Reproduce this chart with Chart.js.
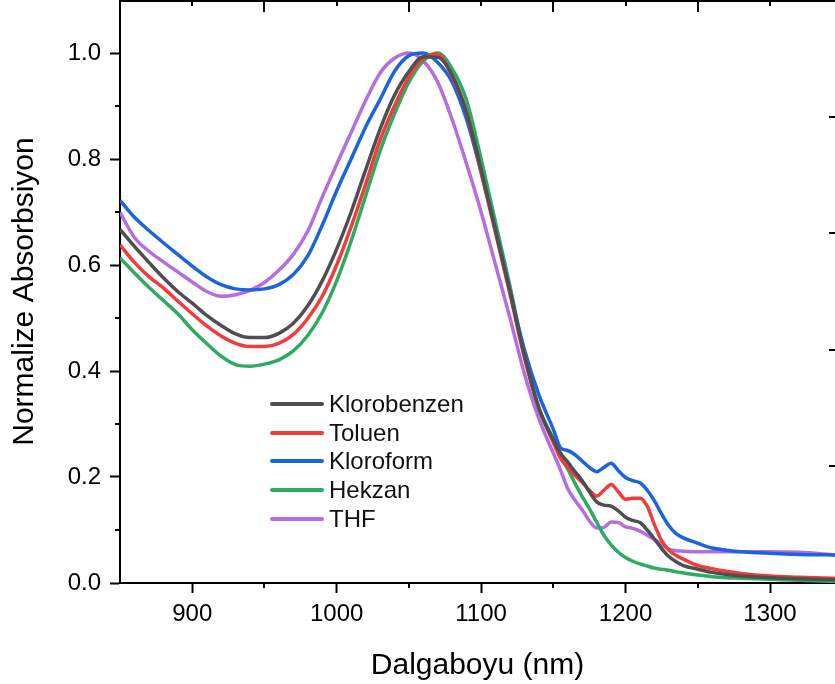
<!DOCTYPE html>
<html>
<head>
<meta charset="utf-8">
<script src="https://cdn.jsdelivr.net/npm/chart.js@4.4.1/dist/chart.umd.min.js"></script>
<style>
  html, body { margin: 0; padding: 0; background: #fff; }
  #wrap { position: relative; width: 835px; height: 684px; overflow: hidden; }
  #legend { position: absolute; left: 270px; top: 0; font-family: "Liberation Sans", Arial, sans-serif; font-size: 24px; color: #111; }
  .row { position: absolute; left: 0; height: 28px; display: flex; align-items: center; white-space: nowrap; }
  .swatch { width: 54px; height: 4px; border-radius: 2px; margin-right: 5px; }
</style>
</head>
<body>
<div id="wrap">
  <canvas id="chart"></canvas>
  <div id="legend"></div>
</div>
<script>
// wavelength grid (nm), finer around the 1150-1240 shoulders
const wavelengths = [850, 860, 870, 880, 890, 900, 910, 920, 930, 940, 950, 960, 970, 980, 990,
  1000, 1010, 1020, 1030, 1040, 1050, 1060, 1070, 1080, 1090, 1100, 1110, 1120, 1130, 1140, 1150,
  1155, 1160, 1165, 1170, 1175, 1180, 1185, 1190, 1195, 1200, 1205, 1210, 1215, 1220, 1225, 1230, 1235, 1240,
  1250, 1260, 1270, 1280, 1300, 1320, 1345];

const klorobenzen = [0.667, 0.635, 0.605, 0.576, 0.550, 0.528, 0.505, 0.486, 0.470, 0.463, 0.463, 0.471, 0.490, 0.523, 0.570,
  0.630, 0.700, 0.779, 0.856, 0.920, 0.965, 0.993, 0.992, 0.958, 0.887, 0.780, 0.665, 0.550, 0.430, 0.330, 0.270,
  0.245, 0.228, 0.210, 0.193, 0.172, 0.153, 0.147, 0.145, 0.136, 0.124, 0.118, 0.114, 0.100, 0.083, 0.065, 0.050, 0.040, 0.033,
  0.026, 0.020, 0.016, 0.013, 0.010, 0.008, 0.006];

const toluen = [0.638, 0.605, 0.578, 0.557, 0.532, 0.508, 0.485, 0.466, 0.452, 0.446, 0.446, 0.452, 0.469, 0.499, 0.541,
  0.600, 0.672, 0.752, 0.835, 0.900, 0.955, 0.990, 0.998, 0.955, 0.888, 0.775, 0.660, 0.545, 0.425, 0.330, 0.265,
  0.235, 0.218, 0.203, 0.190, 0.175, 0.164, 0.175, 0.186, 0.172, 0.158, 0.160, 0.160, 0.145, 0.110, 0.080, 0.062, 0.052, 0.045,
  0.033, 0.027, 0.022, 0.018, 0.013, 0.011, 0.009];

const kloroform = [0.722, 0.690, 0.665, 0.642, 0.620, 0.598, 0.578, 0.563, 0.555, 0.553, 0.555, 0.563, 0.582, 0.617, 0.675,
  0.740, 0.800, 0.860, 0.912, 0.965, 0.995, 1.000, 0.982, 0.945, 0.874, 0.775, 0.665, 0.550, 0.440, 0.355, 0.290,
  0.255, 0.250, 0.242, 0.230, 0.218, 0.210, 0.218, 0.226, 0.212, 0.199, 0.193, 0.189, 0.175, 0.155, 0.130, 0.108, 0.093, 0.085,
  0.075, 0.066, 0.062, 0.059, 0.056, 0.054, 0.053];

const hekzan = [0.613, 0.585, 0.558, 0.533, 0.508, 0.478, 0.452, 0.428, 0.412, 0.409, 0.413, 0.421, 0.438, 0.467, 0.510,
  0.570, 0.645, 0.730, 0.815, 0.885, 0.945, 0.985, 1.000, 0.970, 0.910, 0.800, 0.680, 0.560, 0.430, 0.330, 0.272,
  0.240, 0.215, 0.188, 0.163, 0.140, 0.115, 0.090, 0.072, 0.058, 0.048, 0.041, 0.036, 0.032, 0.028, 0.026, 0.024, 0.021, 0.019,
  0.015, 0.012, 0.010, 0.009, 0.007, 0.005, 0.003];

const thf = [0.699, 0.652, 0.626, 0.606, 0.587, 0.568, 0.550, 0.541, 0.544, 0.552, 0.567, 0.590, 0.620, 0.664, 0.728,
  0.790, 0.850, 0.910, 0.962, 0.990, 1.000, 0.985, 0.945, 0.874, 0.790, 0.700, 0.600, 0.500, 0.395, 0.310, 0.245,
  0.213, 0.178, 0.156, 0.138, 0.117, 0.104, 0.105, 0.115, 0.114, 0.106, 0.103, 0.098, 0.090, 0.082, 0.073, 0.064, 0.061, 0.060,
  0.059, 0.059, 0.059, 0.059, 0.059, 0.058, 0.053];

const seriesLabels = ['Klorobenzen', 'Toluen', 'Kloroform', 'Hekzan', 'THF'];
const seriesValues = [klorobenzen, toluen, kloroform, hekzan, thf];
const seriesColors = ['#4f4f4f', '#f03c3c', '#1c64dc', '#2eaa62', '#b46ee0'];

const xTicks = [900, 1000, 1100, 1200, 1300];
const xMinorTicks = [950, 1050, 1150, 1250];
const yTicks = [0, 0.2, 0.4, 0.6, 0.8, 1.0];
const yMinorTicks = [0.1, 0.3, 0.5, 0.7, 0.9];
// ticks of the (cropped) top and right frame axes
const topLongTicks = [950, 1050, 1150, 1250];
const topShortTicks = [900, 1000, 1100, 1200, 1300];
const rightTicks = [0.22, 0.44, 0.66, 0.88];

const FONT = '"Liberation Sans", Arial, sans-serif';

const axisDecor = {
    id: 'axisDecor',
    afterDraw(chart) {
        const { ctx, chartArea: a, scales: { x, y } } = chart;
        ctx.save();
        ctx.strokeStyle = '#000';
        ctx.lineWidth = 2;
        ctx.beginPath();
        ctx.moveTo(a.left, a.top + 1);
        ctx.lineTo(a.right, a.top + 1);
        xMinorTicks.forEach(v => {
            const px = Math.round(x.getPixelForValue(v));
            ctx.moveTo(px, a.bottom);
            ctx.lineTo(px, a.bottom + 5);
        });
        yMinorTicks.forEach(v => {
            const py = Math.round(y.getPixelForValue(v));
            ctx.moveTo(a.left, py);
            ctx.lineTo(a.left - 5, py);
        });
        topLongTicks.forEach(v => {
            const px = Math.round(x.getPixelForValue(v));
            ctx.moveTo(px, a.top);
            ctx.lineTo(px, a.top + 12);
        });
        topShortTicks.forEach(v => {
            const px = Math.round(x.getPixelForValue(v));
            ctx.moveTo(px, a.top);
            ctx.lineTo(px, a.top + 6);
        });
        rightTicks.forEach(v => {
            const py = Math.round(y.getPixelForValue(v));
            ctx.moveTo(a.right, py);
            ctx.lineTo(a.right - 6, py);
        });
        ctx.stroke();
        ctx.restore();
    }
};

function noPadding(scale) {
    scale.paddingTop = 0;
    scale.paddingBottom = 0;
    scale.paddingLeft = 0;
    scale.paddingRight = 0;
}

function buildLegend() {
    const box = document.getElementById('legend');
    seriesLabels.forEach((label, i) => {
        const row = document.createElement('div');
        row.className = 'row';
        row.style.top = (390 + i * 28.7) + 'px';
        const sw = document.createElement('span');
        sw.className = 'swatch';
        sw.style.background = seriesColors[i];
        const txt = document.createElement('span');
        txt.textContent = label;
        row.appendChild(sw);
        row.appendChild(txt);
        box.appendChild(row);
    });
}

function initChart() {
    const ctx = document.getElementById('chart').getContext('2d');
    new Chart(ctx, {
        type: 'line',
        data: {
            labels: wavelengths,
            datasets: seriesLabels.map((label, i) => ({
                label: label,
                data: wavelengths.map((w, j) => ({ x: w, y: seriesValues[i][j] })),
                borderColor: seriesColors[i],
                backgroundColor: seriesColors[i],
                borderWidth: 3.5,
                pointRadius: 0,
                cubicInterpolationMode: 'monotone',
                fill: false
            }))
        },
        options: {
            responsive: true,
            maintainAspectRatio: false,
            animation: false,
            events: [],
            layout: { padding: 0 },
            scales: {
                x: {
                    type: 'linear',
                    min: 850,
                    max: 1345,
                    afterBuildTicks: scale => { scale.ticks = xTicks.map(v => ({ value: v })); },
                    afterFit: scale => { scale.height = 101; noPadding(scale); },
                    border: { color: '#000', width: 2 },
                    grid: { drawOnChartArea: false, drawTicks: true, tickLength: 10, tickWidth: 2, tickColor: '#000' },
                    ticks: {
                        color: '#000',
                        padding: 7,
                        maxRotation: 0,
                        font: { family: FONT, size: 24 },
                        callback: v => String(v)
                    },
                    title: {
                        display: true,
                        text: 'Dalgaboyu (nm)',
                        color: '#000',
                        font: { family: FONT, size: 30 },
                        padding: { top: 0, bottom: 0 }
                    }
                },
                y: {
                    min: 0,
                    max: 1.1,
                    afterBuildTicks: scale => { scale.ticks = yTicks.map(v => ({ value: v })); },
                    afterFit: scale => { scale.width = 120; noPadding(scale); },
                    border: { color: '#000', width: 2 },
                    grid: { drawOnChartArea: false, drawTicks: true, tickLength: 10, tickWidth: 2, tickColor: '#000' },
                    ticks: {
                        color: '#000',
                        padding: 9,
                        font: { family: FONT, size: 24 },
                        callback: v => v.toFixed(1)
                    },
                    title: {
                        display: true,
                        text: 'Normalize Absorbsiyon',
                        color: '#000',
                        font: { family: FONT, size: 30 },
                        padding: { top: 7, bottom: 0 }
                    }
                }
            },
            plugins: {
                legend: { display: false },
                tooltip: { enabled: false }
            }
        },
        plugins: [axisDecor]
    });
}

buildLegend();
initChart();
</script>
</body>
</html>
